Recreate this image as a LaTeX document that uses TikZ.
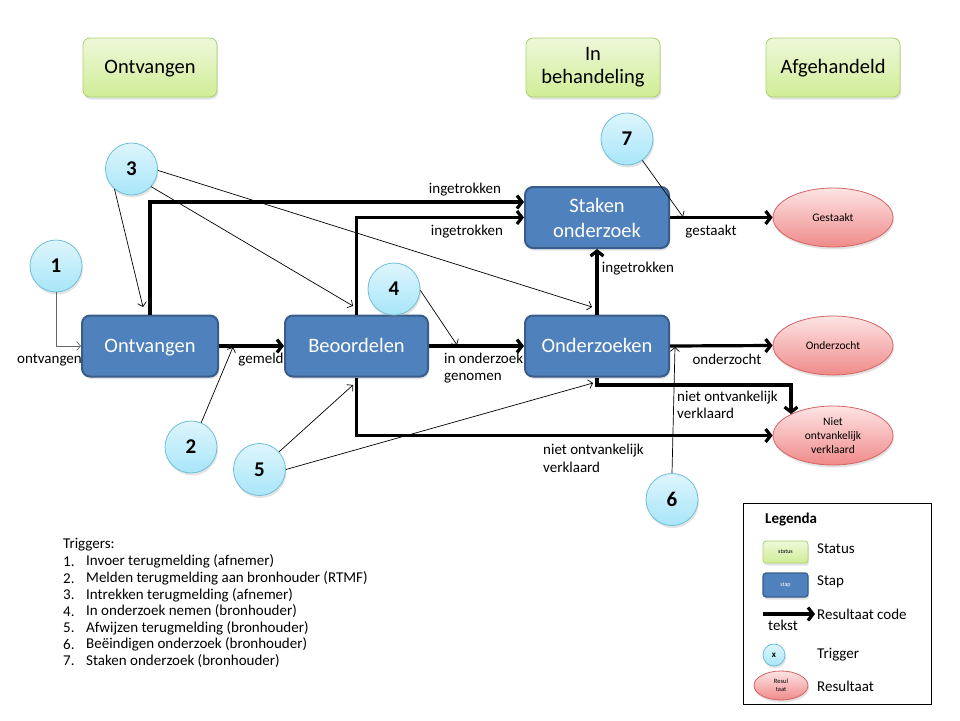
\documentclass[tikz,border=0pt]{standalone}
\usepackage{fontspec}
\setmainfont{Carlito}
\usetikzlibrary{arrows.meta,shadows,shapes.geometric}
\definecolor{gtop}{RGB}{238,248,218}
\definecolor{gbot}{RGB}{208,237,150}
\definecolor{gline}{RGB}{172,208,110}
\definecolor{bfill}{RGB}{79,129,189}
\definecolor{bline}{RGB}{56,93,138}
\definecolor{ctop}{RGB}{222,245,252}
\definecolor{cbot}{RGB}{168,230,249}
\definecolor{cline}{RGB}{110,190,215}
\definecolor{etop}{RGB}{253,228,228}
\definecolor{ebot}{RGB}{240,138,138}
\definecolor{eline}{RGB}{212,100,100}
\begin{document}
\begin{tikzpicture}[x=1pt,y=-1pt,
  shad/.style={drop shadow={opacity=0.22,shadow xshift=1pt,shadow yshift=-2.5pt}},
  statusbox/.style={shad,draw=gline,line width=0.8pt,rounded corners=7pt,top color=gtop,bottom color=gbot,
    minimum width=134pt,minimum height=59pt,align=center,font=\fontsize{20.5}{23}\selectfont,inner sep=2pt},
  stapbox/.style={shad,draw=bline,line width=2pt,rounded corners=8pt,fill=bfill,text=white,
    minimum height=61pt,align=center,font=\fontsize{20.5}{25}\selectfont,inner sep=2pt},
  oneline/.style={text height=14pt,text depth=2pt},
  trig/.style={shad,circle,draw=cline,line width=0.8pt,top color=ctop,bottom color=cbot,
    minimum size=52pt,inner sep=0pt,font=\fontsize{21}{22}\selectfont\bfseries},
  result/.style={shad,ellipse,draw=eline,line width=0.8pt,top color=etop,bottom color=ebot,
    minimum width=120pt,minimum height=59pt,inner sep=0pt,align=center,font=\fontsize{11.5}{14}\selectfont},
  lbl/.style={font=\fontsize{15}{17.5}\selectfont,inner sep=0pt,align=left},
  thickarr/.style={line width=3.2pt,-{Straight Barb[length=5pt,width=13pt]}},
  thinarr/.style={line width=0.7pt,-{Straight Barb[length=4pt,width=9pt]}},
  txt/.style={font=\fontsize{15}{17}\selectfont,inner sep=0pt,anchor=west}
]
\useasboundingbox (0,0) rectangle (960,720);
% status boxes
\node[statusbox,oneline] (gOnt) at (150,67.5) {Ontvangen};
\node[statusbox] (gInb) at (593,67.5) {In\\behandeling};
\node[statusbox,oneline] (gAfg) at (833,67.5) {Afgehandeld};
% step boxes
\node[stapbox,oneline,minimum width=136pt] (bOnt) at (150,346) {Ontvangen};
\node[stapbox,oneline,minimum width=143pt] (bBeo) at (356.5,346) {Beoordelen};
\node[stapbox,oneline,minimum width=144pt] (bOnd) at (597,346) {Onderzoeken};
\node[stapbox,minimum width=144pt] (bSta) at (597,217.5) {Staken\\onderzoek};
% results
\node[result] (eGes) at (833,217.5) {Gestaakt};
\node[result] (eOnd) at (833,345.5) {Onderzocht};
\node[result] (eNiet) at (833,435.5) {Niet\\ontvankelijk\\verklaard};
% triggers
\node[trig] (c1) at (56,266) {1};
\node[trig] (c2) at (191,447) {2};
\node[trig] (c3) at (131.5,169) {3};
\node[trig] (c4) at (394,289) {4};
\node[trig] (c5) at (259.5,469.5) {5};
\node[trig] (c6) at (672,499.5) {6};
\node[trig] (c7) at (627,139) {7};
% thick connectors
\draw[thickarr] (bOnt) -- (bBeo);
\draw[thickarr] (bBeo) -- (bOnd);
\draw[thickarr] (bOnd) -- (bSta);
\draw[thickarr] (bSta) -- (eGes);
\draw[thickarr] (bOnd.east) -- (eOnd.west);
\draw[thickarr] (bOnt.north) |- ([yshift=15.5pt]bSta.west);
\draw[thickarr] (bBeo.north) |- (bSta.west);
\draw[thickarr] (bBeo.south) |- (eNiet.west);
\coordinate (nk) at (791,385);
\draw[thickarr] (bOnd.south) |- (nk) -- (nk |- eNiet.153);
% connector labels
\node[lbl] (l1) at (465,190) {ingetrokken};
\node[lbl] (l2) at (467,232) {ingetrokken};
\node[lbl] (l3) at (638,269) {ingetrokken};
\node[lbl,anchor=west] (l4) at (444,368) {in onderzoek\\genomen};
\node[lbl] (l5) at (261,360) {gemeld};
\node[lbl] (l6) at (49.5,360) {ontvangen};
\node[lbl] (l7) at (711,232) {gestaakt};
\node[lbl] (l8) at (727,359) {onderzocht};
\node[lbl,anchor=west] (l9) at (677,405) {niet ontvankelijk\\verklaard};
\node[lbl,anchor=west] (l10) at (543,458.5) {niet ontvankelijk\\verklaard};
% thin trigger connectors
\coordinate (p2) at (233,347);
\coordinate (p3a) at (143,307);
\coordinate (p3b) at (353,306);
\coordinate (p3c) at (592,307);
\coordinate (p4) at (457,345);
\coordinate (p5a) at (353,385);
\coordinate (p5b) at (593,383);
\coordinate (p6) at (675,347);
\coordinate (p7) at (683,217);
\draw[thinarr,draw=black!60] (c1.south) |- (bOnt.west);
\draw[thinarr] (c2) -- (p2);
\draw[thinarr] (c3.230) -- (p3a);
\draw[thinarr] (c3.318) -- (p3b);
\draw[thinarr] (c3.-3) -- (p3c);
\draw[thinarr] (c4.-3) -- (p4);
\draw[thinarr] (c5) -- (p5a);
\draw[thinarr] (c5.east) -- (p5b);
\draw[thinarr] (c6.north) -- (p6);
\draw[thinarr] (c7) -- (p7);
% triggers list
\node[txt] (tt) at (63,545) {Triggers:};
\foreach \n/\t [count=\i] in {1/Invoer terugmelding (afnemer),2/Melden terugmelding aan bronhouder (RTMF),3/Intrekken terugmelding (afnemer),4/In onderzoek nemen (bronhouder),5/Afwijzen terugmelding (bronhouder),6/Beëindigen onderzoek (bronhouder),7/Staken onderzoek (bronhouder)}{
  \node[txt] (tn\i) at (63,545+16.6*\i) {\n.};
  \node[txt] (tx\i) at (86,545+16.6*\i) {\t};
}
% legend
\node[draw=black,line width=0.8pt,minimum width=188pt,minimum height=201pt,inner sep=0pt] (leg) at (837,603.5) {};
\node[txt,font=\fontsize{15}{17}\selectfont\bfseries] (legt) at (765,519) {Legenda};
\node[statusbox,minimum width=45pt,minimum height=22pt,rounded corners=3pt,font=\fontsize{6}{7}\selectfont] (ls) at (785.5,552) {status};
\node[stapbox,minimum width=45pt,minimum height=24pt,rounded corners=3pt,line width=1.2pt,font=\fontsize{6}{7}\selectfont] (lb) at (785.5,585) {stap};
\coordinate (la1) at (763,614);
\coordinate (la2) at (815,614);
\draw[thickarr] (la1) -- (la2);
\node[txt] (lat) at (768,625) {tekst};
\node[trig,minimum size=22pt,font=\fontsize{9}{10}\selectfont\bfseries] (lc) at (774,655) {x};
\node[result,minimum width=54pt,minimum height=29pt,font=\fontsize{6.5}{8}\selectfont] (le) at (781,685.5) {Resul\\taat};
\node[txt] (ls1) at (817,549) {Status};
\node[txt] (ls2) at (817,582) {Stap};
\node[txt] (ls3) at (817,614) {Resultaat code};
\node[txt] (ls4) at (817,655) {Trigger};
\node[txt] (ls5) at (817,686) {Resultaat};
\end{tikzpicture}
\end{document}
